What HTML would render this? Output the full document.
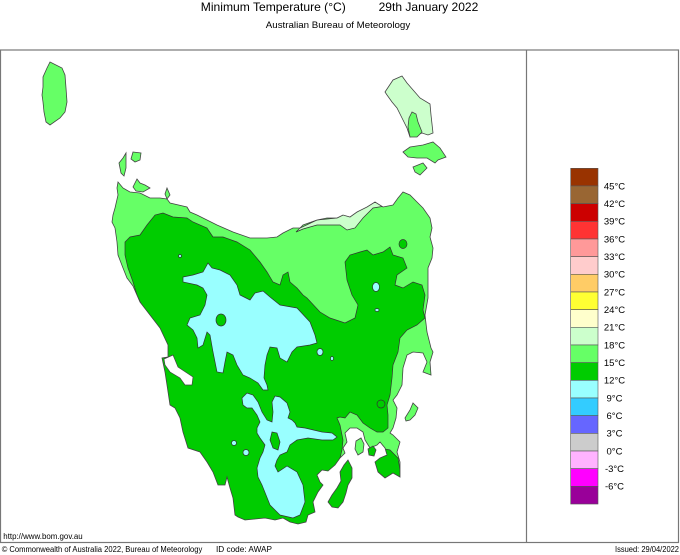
<!DOCTYPE html>
<html><head><meta charset="utf-8"><style>
html,body{margin:0;padding:0;background:#fff;}
svg{display:block;}
text{font-family:"Liberation Sans",sans-serif;fill:#000;}
</style></head><body>
<svg width="680" height="555" viewBox="0 0 680 555" xmlns="http://www.w3.org/2000/svg">
<rect x="0" y="0" width="680" height="555" fill="#fff"/>
<text x="200.8" y="11" font-size="12" textLength="145" lengthAdjust="spacingAndGlyphs">Minimum Temperature (°C)</text>
<text x="378.6" y="11" font-size="12" textLength="99.7" lengthAdjust="spacingAndGlyphs">29th January 2022</text>
<text x="265.8" y="28" font-size="9.5" textLength="144.4" lengthAdjust="spacingAndGlyphs">Australian Bureau of Meteorology</text>

<rect x="0.5" y="50" width="678" height="492.5" fill="none" stroke="#777" stroke-width="1.2"/>
<line x1="526.5" y1="50" x2="526.5" y2="542.5" stroke="#777" stroke-width="1.2"/>

<defs>
<clipPath id="land"><path id="mainP" d="M118,182 L123,188 L130,192 L140,193 L150,198 L160,198 L167,199 L170,203 L187,207 L190,212 L197,215 L217,225 L233,232 L250,238 L267,238 L277,237 L283,233 L293,228 L300,228 L303,225 L317,220 L327,218 L337,218 L343,215 L350,217 L357,212 L367,207 L375,202 L383,207 L393,205 L398,198 L403,192 L410,195 L417,202 L423,208 L430,218 L432,228 L430,237 L433,248 L432,258 L428,268 L428,288 L428,298 L425,315 L427,332 L431,348 L433,352 L430,362 L431,375 L423,372 L427,362 L423,353 L413,352 L407,355 L403,368 L402,385 L397,395 L393,400 L397,408 L396,418 L393,428 L390,433 L393,435 L400,442 L397,452 L400,462 L400,477 L393,473 L385,478 L378,472 L375,462 L380,458 L387,455 L385,448 L380,442 L377,445 L370,448 L365,440 L363,432 L357,428 L350,428 L345,433 L347,442 L343,448 L345,453 L340,458 L335,465 L328,471 L322,470 L317,475 L320,482 L323,485 L318,492 L313,502 L315,512 L308,515 L306,522 L298,524 L290,522 L283,518 L275,520 L265,518 L255,519 L245,520 L238,517 L235,515 L233,498 L230,488 L227,477 L225,485 L218,485 L213,472 L207,462 L200,452 L188,448 L183,432 L180,418 L175,408 L170,405 L167,385 L165,372 L162,358 L168,357 L168,345 L160,328 L150,315 L140,302 L133,286 L127,278 L123,268 L118,255 L117,242 L115,228 L112,222 L113,215 L115,208 L118,195 L117,188 Z"/></clipPath>
</defs>

<path d="M118,182 L123,188 L130,192 L140,193 L150,198 L160,198 L167,199 L170,203 L187,207 L190,212 L197,215 L217,225 L233,232 L250,238 L267,238 L277,237 L283,233 L293,228 L300,228 L303,225 L317,220 L327,218 L337,218 L343,215 L350,217 L357,212 L367,207 L375,202 L383,207 L393,205 L398,198 L403,192 L410,195 L417,202 L423,208 L430,218 L432,228 L430,237 L433,248 L432,258 L428,268 L428,288 L428,298 L425,315 L427,332 L431,348 L433,352 L430,362 L431,375 L423,372 L427,362 L423,353 L413,352 L407,355 L403,368 L402,385 L397,395 L393,400 L397,408 L396,418 L393,428 L390,433 L393,435 L400,442 L397,452 L400,462 L400,477 L393,473 L385,478 L378,472 L375,462 L380,458 L387,455 L385,448 L380,442 L377,445 L370,448 L365,440 L363,432 L357,428 L350,428 L345,433 L347,442 L343,448 L345,453 L340,458 L335,465 L328,471 L322,470 L317,475 L320,482 L323,485 L318,492 L313,502 L315,512 L308,515 L306,522 L298,524 L290,522 L283,518 L275,520 L265,518 L255,519 L245,520 L238,517 L235,515 L233,498 L230,488 L227,477 L225,485 L218,485 L213,472 L207,462 L200,452 L188,448 L183,432 L180,418 L175,408 L170,405 L167,385 L165,372 L162,358 L168,357 L168,345 L160,328 L150,315 L140,302 L133,286 L127,278 L123,268 L118,255 L117,242 L115,228 L112,222 L113,215 L115,208 L118,195 L117,188 Z" fill="#66FF66"/>

<g clip-path="url(#land)" stroke="#333" stroke-width="0.7">
<polygon fill="#00CC00" points="100,310 142,306 137,295 133,282 128,268 125,255 125,242 130,237 140,235 147,225 155,215 163,213 173,217 187,218 193,222 207,228 213,237 223,237 237,242 250,250 260,262 267,272 273,282 280,285 283,275 288,272 290,282 297,288 303,295 307,298 320,312 330,318 345,323 355,318 358,305 352,295 347,280 345,262 350,255 360,252 367,250 373,255 383,252 390,247 393,255 403,258 407,268 397,275 395,285 403,288 413,282 422,285 425,295 423,310 425,318 417,325 407,330 400,338 398,352 393,365 392,378 390,395 387,405 388,415 388,428 383,432 377,432 370,428 363,423 357,415 350,412 345,418 340,417 337,418 340,425 343,440 342,450 340,458 345,470 350,540 100,540"/>
<polygon fill="#00CC00" points="372,452 380,448 390,450 398,458 400,470 400,478 385,478 378,472 372,462"/>
<ellipse cx="403" cy="244" rx="4" ry="4.5" fill="#00CC00"/>
<polygon fill="#CCFFCC" points="296,232 300,228 317,220 337,218 343,215 357,212 375,200 385,206 373,208 363,218 355,228 347,230 340,225 330,225 317,225 303,229"/>
<polygon fill="#99FFFF" points="183,277 193,275 203,272 208,263 212,268 220,270 230,275 237,285 240,295 250,300 255,293 263,291 270,297 280,305 297,308 310,322 315,335 317,343 310,345 297,347 292,352 287,362 280,358 277,348 270,347 267,355 265,365 264,378 267,385 268,390 263,390 258,383 250,378 243,375 237,365 233,355 227,352 225,362 223,373 217,372 213,352 210,335 207,332 203,345 198,348 197,338 193,330 187,325 190,318 200,315 205,305 207,295 203,288 197,285 183,282"/>
<ellipse cx="221" cy="320" rx="5" ry="6" fill="#00CC00"/>
<polygon fill="#99FFFF" points="243,405 242,398 247,393 253,395 258,402 262,412 267,420 272,422 273,412 272,402 275,396 280,397 287,403 290,412 288,418 292,420 295,423 297,427 305,428 322,432 332,433 337,437 333,440 322,440 308,438 297,440 290,445 287,452 280,455 277,460 275,466 278,472 287,466 297,472 303,485 305,502 300,515 293,518 280,515 277,512 270,505 266,495 262,485 258,477 257,468 260,458 263,452 265,445 260,438 257,433 257,428 260,422 257,415 252,408 247,408"/>
<polygon fill="#00CC00" points="272,432 277,433 280,442 278,450 273,448 270,440"/>
<ellipse cx="180" cy="256" rx="1.5" ry="1.5" fill="#99FFFF"/>
<ellipse cx="234" cy="443" rx="2.5" ry="2.5" fill="#99FFFF"/>
<ellipse cx="246" cy="452.5" rx="3" ry="3" fill="#99FFFF"/>
<ellipse cx="320" cy="352" rx="3" ry="3.5" fill="#99FFFF"/>
<ellipse cx="332" cy="358.5" rx="1.5" ry="2" fill="#99FFFF"/>
<ellipse cx="376" cy="287" rx="3.5" ry="4.5" fill="#99FFFF"/>
<ellipse cx="377" cy="310" rx="2" ry="1.5" fill="#99FFFF"/>
<ellipse cx="381" cy="404" rx="4" ry="4" fill="#00CC00"/>
</g>
<use href="#mainP" fill="none" stroke="#444" stroke-width="0.8"/>
<polygon fill="#fff" stroke="#444" stroke-width="0.7" points="164,359 173,355 178,367 187,373 193,377 192,385 185,385 180,378 170,372 165,365"/>

<g stroke="#444" stroke-width="0.8">
<polygon fill="#66FF66" points="50,62 62,68 65,75 66,88 67,102 65,112 60,118 50,125 46,122 44,112 43,102 42,95 43,87 43,77 47,68"/>
<polygon fill="#66FF66" points="126,153 126,168 124,176 121,173 119,163 123,158"/>
<polygon fill="#66FF66" points="133,152 141,153 140,160 135,162 131,159"/>
<polygon fill="#66FF66" points="137,179 140,183 145,185 150,188 143,192 136,191 133,187"/>
<polygon fill="#66FF66" points="167,188 170,195 167,199 165,194"/>
<polygon fill="#CCFFCC" points="385,92 393,80 402,76 407,83 420,98 430,104 431,115 433,133 428,135 422,133 417,135 410,137 407,128 403,120 397,108 392,102 387,95"/>
<polygon fill="#66FF66" points="412,112 416,114 418,122 422,132 417,137 410,137 408,127 409,118"/>
<polygon fill="#66FF66" points="403,152 410,147 423,145 433,142 440,148 446,157 438,160 435,163 427,158 417,158 408,157"/>
<polygon fill="#66FF66" points="413,167 423,163 427,168 420,175 415,172"/>
<polygon fill="#00CC00" points="348,460 352,468 352,478 348,485 346,493 343,502 338,508 332,507 328,502 332,495 337,488 341,481 340,472 344,465"/>
<polygon fill="#66FF66" points="405,418 410,410 413,403 418,408 415,415 410,420 406,421"/>
<polygon fill="#66FF66" points="356,441 361,438 364,444 363,452 358,455 355,449"/>
<polygon fill="#00CC00" points="368,449 373,446 376,450 374,456 369,455"/>
</g>

<g stroke="#555" stroke-width="0.6">
<rect x="570.7" y="168.30" width="27.3" height="17.67" fill="#993300"/>
<rect x="570.7" y="185.97" width="27.3" height="17.67" fill="#996633"/>
<rect x="570.7" y="203.64" width="27.3" height="17.67" fill="#CC0000"/>
<rect x="570.7" y="221.31" width="27.3" height="17.67" fill="#FF3333"/>
<rect x="570.7" y="238.98" width="27.3" height="17.67" fill="#FF9999"/>
<rect x="570.7" y="256.65" width="27.3" height="17.67" fill="#FFCCCC"/>
<rect x="570.7" y="274.32" width="27.3" height="17.67" fill="#FFCC66"/>
<rect x="570.7" y="291.99" width="27.3" height="17.67" fill="#FFFF33"/>
<rect x="570.7" y="309.66" width="27.3" height="17.67" fill="#FFFFCC"/>
<rect x="570.7" y="327.33" width="27.3" height="17.67" fill="#CCFFCC"/>
<rect x="570.7" y="345.00" width="27.3" height="17.67" fill="#66FF66"/>
<rect x="570.7" y="362.67" width="27.3" height="17.67" fill="#00CC00"/>
<rect x="570.7" y="380.34" width="27.3" height="17.67" fill="#99FFFF"/>
<rect x="570.7" y="398.01" width="27.3" height="17.67" fill="#33CCFF"/>
<rect x="570.7" y="415.68" width="27.3" height="17.67" fill="#6666FF"/>
<rect x="570.7" y="433.35" width="27.3" height="17.67" fill="#CCCCCC"/>
<rect x="570.7" y="451.02" width="27.3" height="17.67" fill="#FFB3FF"/>
<rect x="570.7" y="468.69" width="27.3" height="17.67" fill="#FF00FF"/>
<rect x="570.7" y="486.36" width="27.3" height="17.67" fill="#990099"/>
</g>
<g font-size="9.5" text-anchor="middle">
<text x="614.5" y="189.3">45°C</text>
<text x="614.5" y="207.0">42°C</text>
<text x="614.5" y="224.6">39°C</text>
<text x="614.5" y="242.3">36°C</text>
<text x="614.5" y="260.0">33°C</text>
<text x="614.5" y="277.7">30°C</text>
<text x="614.5" y="295.3">27°C</text>
<text x="614.5" y="313.0">24°C</text>
<text x="614.5" y="330.7">21°C</text>
<text x="614.5" y="348.3">18°C</text>
<text x="614.5" y="366.0">15°C</text>
<text x="614.5" y="383.7">12°C</text>
<text x="614.5" y="401.3">9°C</text>
<text x="614.5" y="419.0">6°C</text>
<text x="614.5" y="436.7">3°C</text>
<text x="614.5" y="454.4">0°C</text>
<text x="614.5" y="472.0">-3°C</text>
<text x="614.5" y="489.7">-6°C</text>
</g>

<text x="3.3" y="539" font-size="8" textLength="79.4" lengthAdjust="spacingAndGlyphs">http://www.bom.gov.au</text>
<text x="1.7" y="552" font-size="8" textLength="200.6" lengthAdjust="spacingAndGlyphs">© Commonwealth of Australia 2022, Bureau of Meteorology</text>
<text x="216" y="552" font-size="8" textLength="56" lengthAdjust="spacingAndGlyphs">ID code: AWAP</text>
<text x="615" y="552" font-size="8" textLength="64" lengthAdjust="spacingAndGlyphs">Issued: 29/04/2022</text>
</svg>
</body></html>
